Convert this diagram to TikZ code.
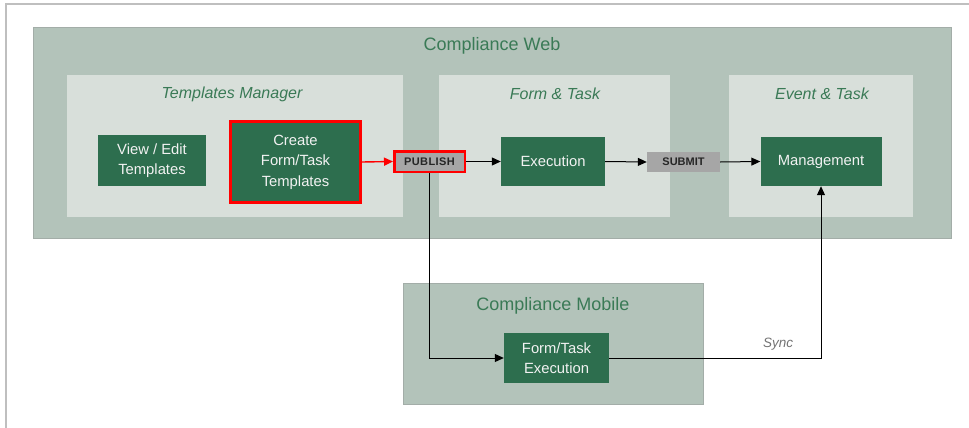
\documentclass[tikz,border=0pt]{standalone}
\usepackage{fontspec}
\setmainfont{Liberation Sans}
\usetikzlibrary{arrows.meta}
\definecolor{outerfill}{HTML}{B3C3BA}
\definecolor{outeredge}{HTML}{A3ADA8}
\definecolor{innerfill}{HTML}{D8DFDA}
\definecolor{darkgreen}{HTML}{2D6E4E}
\definecolor{titlegreen}{HTML}{3A7A56}
\definecolor{tagfill}{HTML}{A6A6A6}
\definecolor{framegray}{HTML}{BFBFBF}
\definecolor{boxtext}{HTML}{F2F2F2}
\definecolor{redbox}{HTML}{FF0000}
\tikzset{
  outerbox/.style={fill=outerfill, draw=outeredge, line width=0.8pt, inner sep=0},
  innerbox/.style={fill=innerfill, draw=none, inner sep=0},
  greenbox/.style={fill=darkgreen, draw=none, inner sep=0, text=boxtext, align=center,
    font=\fontsize{14.8}{20.5}\selectfont},
  bigtitle/.style={text=titlegreen, font=\fontsize{18}{20}\selectfont, inner sep=0},
  subtitle/.style={text=titlegreen, font=\fontsize{16}{18}\selectfont\itshape, inner sep=0},
  tagbox/.style={fill=tagfill, inner sep=0, text=black!85, font=\fontsize{11}{12}\selectfont\bfseries},
  conn/.style={draw=black, line width=1pt, -{Triangle[length=9pt,width=8pt]}},
}
\begin{document}
\begin{tikzpicture}[x=1pt,y=-1pt]
\useasboundingbox (0,0) rectangle (969,428);
% frame
\draw[framegray, line width=2pt] (969,4) -- (6,4) -- (6,428);
% containers
\node[outerbox, minimum width=918pt, minimum height=211pt] (web) at (492,132.5) {};
\node[bigtitle] (webtitle) at (492,46) {Compliance Web};
\node[innerbox, minimum width=336pt, minimum height=142pt] (tm) at (235,146) {};
\node[subtitle] (tmtitle) at (232,94) {Templates Manager};
\node[innerbox, minimum width=231pt, minimum height=142pt] (ft) at (554.5,146) {};
\node[subtitle] (fttitle) at (555,94) {Form \& Task};
\node[innerbox, minimum width=184pt, minimum height=142pt] (et) at (821,146) {};
\node[subtitle] (ettitle) at (822,94) {Event \& Task};
\node[outerbox, minimum width=300pt, minimum height=121pt] (mobile) at (553,343.5) {};
\node[bigtitle] (mobiletitle) at (553,306) {Compliance Mobile};
% boxes
\node[greenbox, minimum width=108pt, minimum height=51pt] (view) at (152,160.5) {View / Edit\\Templates};
\node[greenbox, draw=redbox, line width=3pt, minimum width=130pt, minimum height=81pt] (create) at (295.5,162) {Create\\Form/Task\\Templates};
\node[tagbox, draw=redbox, line width=2.5pt, minimum width=70.5pt, minimum height=20.5pt] (publish) at (429.5,161.5) {P\kern0.4pt U\kern0.4pt B\kern0.4pt L\kern0.4pt I\kern0.4pt S\kern0.4pt H};
\node[greenbox, minimum width=104pt, minimum height=49pt] (exec) at (553,161.5) {Execution};
\node[tagbox, minimum width=73pt, minimum height=20pt] (submit) at (683.5,162) {SUBMIT};
\node[greenbox, minimum width=121pt, minimum height=49pt] (mgmt) at (821,161.5) {Management};
\node[greenbox, minimum width=105pt, minimum height=50pt] (fte) at (556.5,358) {Form/Task\\Execution};
\node[text=black!55, font=\fontsize{13.5}{15}\selectfont\itshape, inner sep=0] (sync) at (778,344) {Sync};
% connectors
\draw[conn, draw=redbox, line width=1.4pt] (create.east) -- (publish.west);
\draw[conn] (publish.east) -- (exec.west);
\draw[conn] (exec.east) -- (submit.west);
\draw[conn] (submit.east) -- (mgmt.west);
\draw[conn] (publish.south) |- (fte.west);
\draw[conn] (fte.east) -| (mgmt.south);
\end{tikzpicture}
\end{document}
